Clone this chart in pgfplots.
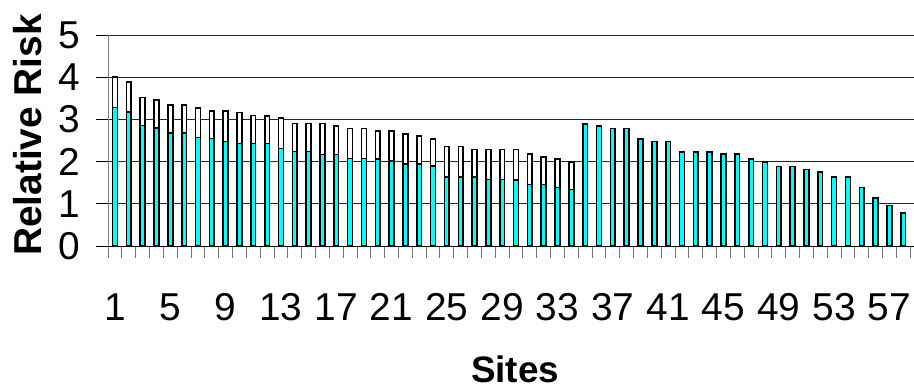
\documentclass[border=0pt]{standalone}
\usepackage{pgfplots}
\pgfplotsset{compat=1.18}
\usepackage{fontspec}
\setmainfont{Liberation Sans}
\definecolor{barcyan}{RGB}{0,255,255}
\pgfplotstableread{
x total
1 4.01
2 3.89
3 3.52
4 3.46
5 3.34
6 3.34
7 3.27
8 3.20
9 3.20
10 3.16
11 3.09
12 3.08
13 3.03
14 2.90
15 2.90
16 2.90
17 2.84
18 2.78
19 2.78
20 2.73
21 2.73
22 2.66
23 2.60
24 2.54
25 2.36
26 2.36
27 2.29
28 2.29
29 2.29
30 2.29
31 2.18
32 2.11
33 2.06
34 1.99
}\totals
\pgfplotstableread{
x low
1 3.28
2 3.17
3 2.86
4 2.80
5 2.68
6 2.68
7 2.57
8 2.55
9 2.48
10 2.43
11 2.43
12 2.43
13 2.31
14 2.24
15 2.24
16 2.17
17 2.17
18 2.07
19 2.07
20 2.06
21 2.01
22 1.94
23 1.94
24 1.90
25 1.64
26 1.64
27 1.64
28 1.58
29 1.58
30 1.56
31 1.46
32 1.46
33 1.39
34 1.34
35 2.89
36 2.84
37 2.78
38 2.78
39 2.54
40 2.48
41 2.48
42 2.23
43 2.23
44 2.23
45 2.18
46 2.18
47 2.06
48 1.99
49 1.88
50 1.88
51 1.81
52 1.75
53 1.63
54 1.63
55 1.39
56 1.14
57 0.96
58 0.78
59 0.66
}\lows
\begin{document}
\begin{tikzpicture}
\useasboundingbox (-108.1bp,-144bp) rectangle (805.9bp,246bp);
\begin{axis}[
  at={(0,0)}, anchor=south west,
  scale only axis, width=805.9bp, height=211bp,
  xmin=0.5, xmax=58.78, ymin=0, ymax=5,
  ytick={0,1,...,5},
  xtick={1,5,...,57},
  minor xtick={0.5,1.5,...,58.5},
  axis x line*=bottom, axis y line*=left,
  ymajorgrids, grid style={black!85, line width=1bp},
  tick align=outside,
  major tick length=12bp, minor tick length=12bp,
  major x tick style={draw=none},
  minor x tick style={draw=black!55, line width=1bp},
  major y tick style={draw=black, line width=1bp},
  y axis line style={draw=black!50, line width=1bp},
  x axis line style={draw=black, line width=1bp},
  /pgf/number format/assume math mode=true,
  ticklabel style={font=\fontsize{39}{40}\selectfont, inner sep=0pt},
  xticklabel style={anchor=base, yshift=-62bp},
  yticklabel style={anchor=east, xshift=-16bp},
  xlabel={Sites},
  xlabel style={at={(rel axis cs:0.505,-0.648)}, anchor=base, font=\bfseries\fontsize{37}{38}\selectfont, inner sep=0pt},
  ylabel={Relative Risk},
  ylabel style={at={(rel axis cs:-0.1,0.526)}, anchor=center, font=\bfseries\fontsize{39}{40}\selectfont, inner sep=0pt},
]
\addplot[ybar, bar width=4.8bp, bar shift=0pt, fill=white, draw=black, line width=1.6bp] table[x=x, y=total] {\totals};
\addplot[ybar, bar width=4.8bp, bar shift=0pt, fill=barcyan, draw=black, line width=1.6bp] table[x=x, y=low] {\lows};
\end{axis}
\end{tikzpicture}
\end{document}
